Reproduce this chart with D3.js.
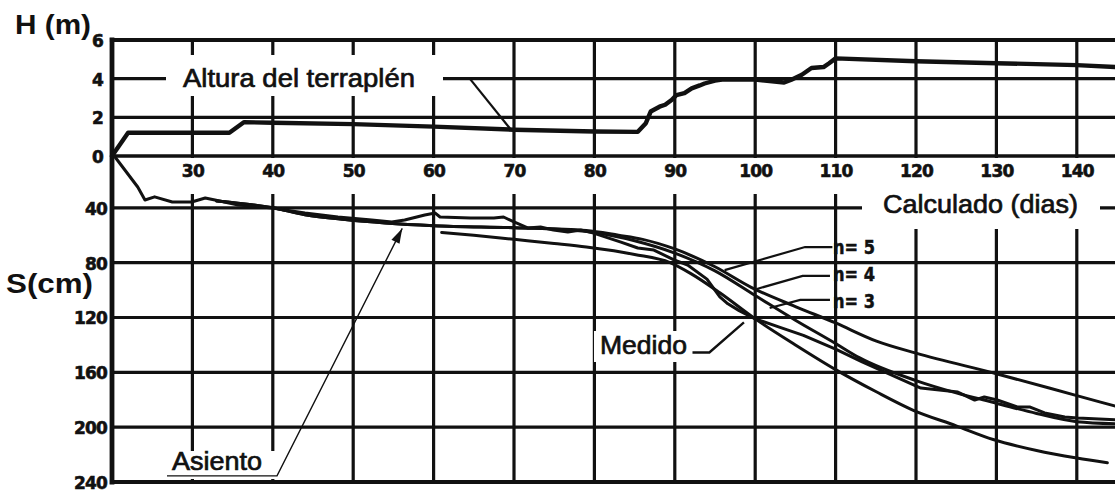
<!DOCTYPE html>
<html>
<head>
<meta charset="utf-8">
<script src="https://cdn.jsdelivr.net/npm/d3@7"></script>
<style>
  html, body { margin: 0; padding: 0; background: #fff; }
  svg { display: block; }
</style>
</head>
<body>
<svg id="chart" width="1115" height="495"></svg>
<script>
// ---- Axis ticks ----
const dayTicks = [30, 40, 50, 60, 70, 80, 90, 100, 110, 120, 130, 140];
const heightTicks = [0, 2, 4, 6];
const settleTicks = [40, 80, 120, 160, 200, 240];
const heightGrid = [2, 4];
const settleGrid = [40, 80, 120, 160, 200];

// ---- Embankment height H (m) vs time (days) ----
const heightDays   = [20, 22, 34.6, 36.4, 40, 50, 60, 70, 80, 85.4, 86.4, 87.0, 88.1, 88.8, 89.6, 90.2, 91.2, 92.1, 93.1, 93.7, 95.0, 95.9, 100, 103.6, 104.5, 105.8, 107.0, 108.5, 109.2, 110, 120, 130, 140, 145];
const heightValues = [0, 1.2, 1.2, 1.75, 1.72, 1.65, 1.52, 1.36, 1.27, 1.25, 1.7, 2.3, 2.55, 2.65, 2.9, 3.15, 3.25, 3.5, 3.65, 3.75, 3.9, 3.95, 3.95, 3.8, 3.95, 4.2, 4.55, 4.6, 4.8, 5.05, 4.9, 4.8, 4.7, 4.6];

// ---- Measured settlement S (cm) ----
const measuredDays   = [20, 23.2, 24.1, 25.3, 27.5, 29.9, 31.6, 32.8, 35.7, 39.9, 44, 48.1, 52.3, 54.8, 56.4, 58.9, 60.2, 60.8, 64.6, 67.5, 68.7, 70, 71.7, 73.3, 74.9, 76.7, 78.3, 79.9, 83.3, 85.4, 87.4, 89.9, 91.6, 94, 95.6, 96.6, 98, 100, 103, 106, 110, 113.3, 120.6, 125.2, 127.3, 128.5, 130.1, 132.6, 134.2, 136, 138.5, 140.1, 145];
const measuredValues = [0, 24.8, 34.3, 32, 35.7, 35.7, 32.8, 34.3, 37.9, 40.1, 43.8, 46.7, 48.9, 50.3, 48.9, 45.2, 43.8, 46.7, 47.4, 47.4, 46.7, 50.3, 54.7, 54, 56.2, 57.7, 56.2, 58.4, 65, 69.3, 70.8, 78, 81.7, 92, 105, 110, 115, 121, 127, 133, 143, 152.4, 171.5, 174.4, 180.2, 178, 180.2, 185.3, 185.3, 189.6, 192.6, 193.3, 194.7];

// ---- Calculated settlement, n = 5 ----
const n5Days   = [33, 40, 44, 49, 54, 60, 70, 79, 83, 86, 90, 95, 99.5, 105, 110, 115, 120, 130, 140, 145];
const n5Values = [35, 40, 45, 48.5, 51, 53, 54.5, 56.5, 60, 63, 70, 83, 98, 112, 124, 137, 146, 161, 177, 185];

// ---- Calculated settlement, n = 4 ----
const n4Days   = [33, 40, 44, 49, 54, 60, 70, 75, 80, 85, 90, 95, 100, 105, 110, 113, 120, 125, 130, 135, 140, 145];
const n4Values = [35, 40, 45, 48.5, 51, 53, 54.5, 55.5, 58, 64, 73, 86, 104, 122, 139, 149.5, 166, 175, 182.5, 190, 196, 197.5];

// ---- Calculated settlement, n = 3 ----
const n3Days   = [61, 65, 70, 75, 79, 85, 89.4, 92, 95.6, 100, 105, 110, 115, 119.6, 125, 129.6, 135, 140, 143.8];
const n3Values = [58, 60, 63, 66, 68.6, 74, 80, 88, 102, 121, 140, 158, 174, 187.5, 199, 209, 217, 222.5, 226];

const curveLabels = ["n= 5", "n= 4", "n= 3"];

// ---- Scales ----
const W = 1115;
const x  = d3.scaleLinear().domain([20, 145]).range([112, 1117]);
const yH = d3.scaleLinear().domain([0, 6]).range([156, 40]);
const yS = d3.scaleLinear().domain([0, 240]).range([153, 482]);

const svg = d3.select("#chart");
const ink = "#111";
svg.append("rect").attr("width", W).attr("height", 495).attr("fill", "#fff");

// ---- Grid ----
const grid = svg.append("g").attr("stroke", ink).attr("stroke-width", 3.2);
grid.selectAll("line.v").data(dayTicks).join("line")
  .attr("x1", d => x(d)).attr("x2", d => x(d))
  .attr("y1", yH(6)).attr("y2", yS(240));
grid.selectAll("line.h").data(heightGrid).join("line")
  .attr("x1", x(20)).attr("x2", W)
  .attr("y1", d => yH(d)).attr("y2", d => yH(d));
grid.selectAll("line.s").data(settleGrid).join("line")
  .attr("x1", x(20)).attr("x2", W)
  .attr("y1", d => yS(d)).attr("y2", d => yS(d));

// ---- White panels behind the labels ----
const panels = [
  [x(20) + 2, 158, W, 194],      // day numbers row
  [166, 55, 443, 96],           // Altura del terraplén
  [862, 194, 1100, 229],        // Calculado (dias)
  [594, 331, 694, 362],         // Medido
  [163, 451, 283, 479]          // Asiento
];
svg.append("g").selectAll("rect").data(panels).join("rect")
  .attr("x", d => d[0]).attr("y", d => d[1])
  .attr("width", d => d[2] - d[0]).attr("height", d => d[3] - d[1])
  .attr("fill", "#fff");

// ---- Frame ----
const frame = svg.append("g").attr("stroke", ink).attr("stroke-linecap", "square");
frame.append("line").attr("x1", x(20)).attr("x2", W).attr("y1", yH(6)).attr("y2", yH(6)).attr("stroke-width", 4.2);
frame.append("line").attr("x1", x(20)).attr("x2", W).attr("y1", yH(0)).attr("y2", yH(0)).attr("stroke-width", 3.4);
frame.append("line").attr("x1", x(20)).attr("x2", W).attr("y1", yS(240)).attr("y2", yS(240)).attr("stroke-width", 4.2);
frame.append("line").attr("x1", x(20)).attr("x2", x(20)).attr("y1", yH(6)).attr("y2", yS(240)).attr("stroke-width", 4.8);

// ---- Axes (labels only) ----
const tickFont = "'DejaVu Sans', sans-serif";
const axH = svg.append("g").attr("transform", `translate(${x(20)},0)`)
  .call(d3.axisLeft(yH).tickValues(heightTicks).tickSize(0).tickPadding(9).tickFormat(d3.format("d")));
const axS = svg.append("g").attr("transform", `translate(${x(20)},0)`)
  .call(d3.axisLeft(yS).tickValues(settleTicks).tickSize(0).tickPadding(5).tickFormat(d3.format("d")));
const axD = svg.append("g").attr("transform", `translate(0,${yH(0)})`)
  .call(d3.axisBottom(x).tickValues(dayTicks).tickSize(0).tickFormat(d3.format("d")));
[axH, axS, axD].forEach(a => {
  a.select(".domain").remove();
  a.selectAll("text").attr("font-family", tickFont).attr("font-weight", "bold")
    .attr("font-size", 17).attr("fill", ink).attr("stroke", ink).attr("stroke-width", 0.6)
    .attr("letter-spacing", -0.8);
});
axD.selectAll("text").attr("y", 21).attr("dy", 0);
axH.selectAll("text").attr("dy", "0.38em");
axS.selectAll("text").attr("dy", "0.38em");

// ---- Curves ----
const zip = (ds, vs) => ds.map((d, i) => [d, vs[i]]);
const hLine = d3.line().x(d => x(d[0])).y(d => yH(d[1]));
const sLineRough = d3.line().x(d => x(d[0])).y(d => yS(d[1]));
const sLineSmooth = d3.line().x(d => x(d[0])).y(d => yS(d[1])).curve(d3.curveMonotoneX);

const curves = svg.append("g").attr("fill", "none").attr("stroke", ink)
  .attr("stroke-linejoin", "round").attr("stroke-linecap", "round");
curves.append("path").attr("d", hLine(zip(heightDays, heightValues))).attr("stroke-width", 4.4);
curves.append("path").attr("d", sLineSmooth(zip(n5Days, n5Values))).attr("stroke-width", 3);
curves.append("path").attr("d", sLineSmooth(zip(n4Days, n4Values))).attr("stroke-width", 3);
curves.append("path").attr("d", sLineSmooth(zip(n3Days, n3Values))).attr("stroke-width", 3);
curves.append("path").attr("d", sLineRough(zip(measuredDays, measuredValues))).attr("stroke-width", 3);

// ---- Leaders ----
const pH = (d, h) => [x(d), yH(h)];
const pS = (d, s) => [x(d), yS(s)];
const poly = d3.line();
const leaders = svg.append("g").attr("fill", "none").attr("stroke", ink).attr("stroke-linejoin", "miter");
leaders.append("path").attr("stroke-width", 2.2).attr("d", poly([pH(64.5, 4), pH(69.5, 1.42)]));
leaders.append("path").attr("stroke-width", 2.4).attr("d", poly([pS(92.2, 145.5), pS(94.3, 145.5), pS(98.6, 123.5)]));
leaders.append("path").attr("stroke-width", 2.2).attr("d", poly([pS(109.6, 68.6), pS(106.2, 68.6), pS(96.2, 85.4)]));
leaders.append("path").attr("stroke-width", 2.2).attr("d", poly([pS(109.3, 89.7), pS(105.9, 89.7), pS(100.2, 99.2)]));
leaders.append("path").attr("stroke-width", 2.2).attr("d", poly([pS(109.3, 107.2), pS(105.6, 107.2), pS(101.8, 113.1)]));

// Asiento arrow
const tip = pS(56.1, 55);
const base = [277, yS(235.5)];
leaders.append("path").attr("stroke-width", 1.4).attr("d", poly([[167, base[1]], base, tip]));
const ang = Math.atan2(tip[1] - base[1], tip[0] - base[0]);
const aL = 15, aW = 4.5;
const bx = tip[0] - aL * Math.cos(ang), by = tip[1] - aL * Math.sin(ang);
svg.append("path").attr("fill", ink).attr("d", poly([
  tip,
  [bx + aW * Math.sin(ang), by - aW * Math.cos(ang)],
  [bx - aW * Math.sin(ang), by + aW * Math.cos(ang)]
]) + "Z");

// ---- Text labels ----
const labelFont = "'Liberation Sans', Arial, sans-serif";
const label = (txt, px, py, size, len, weight) => svg.append("text")
  .attr("x", px).attr("y", py).text(txt)
  .attr("font-family", labelFont).attr("font-size", size)
  .attr("font-weight", weight || "normal")
  .attr("fill", ink).attr("stroke", ink).attr("stroke-width", weight ? 0 : 0.7)
  .attr("textLength", len).attr("lengthAdjust", "spacingAndGlyphs");

label("Altura del terraplén", 183, 87, 26, 232);
label("Calculado (dias)", 883, 213, 26, 195);
label("Medido", 600, 354, 26, 87);
label("Asiento", 172, 470, 26, 90);
label("H (m)", 15, 34, 27, 76, "bold");
label("S(cm)", 6, 293, 27, 87, "bold");

svg.append("g").selectAll("text").data(curveLabels).join("text")
  .attr("x", 833).attr("y", (d, i) => [254, 281, 308][i])
  .text(d => d)
  .attr("font-family", tickFont).attr("font-weight", "bold").attr("font-size", 19)
  .attr("fill", ink).attr("stroke", ink).attr("stroke-width", 0.5)
  .attr("textLength", 42).attr("lengthAdjust", "spacingAndGlyphs");
</script>
</body>
</html>
